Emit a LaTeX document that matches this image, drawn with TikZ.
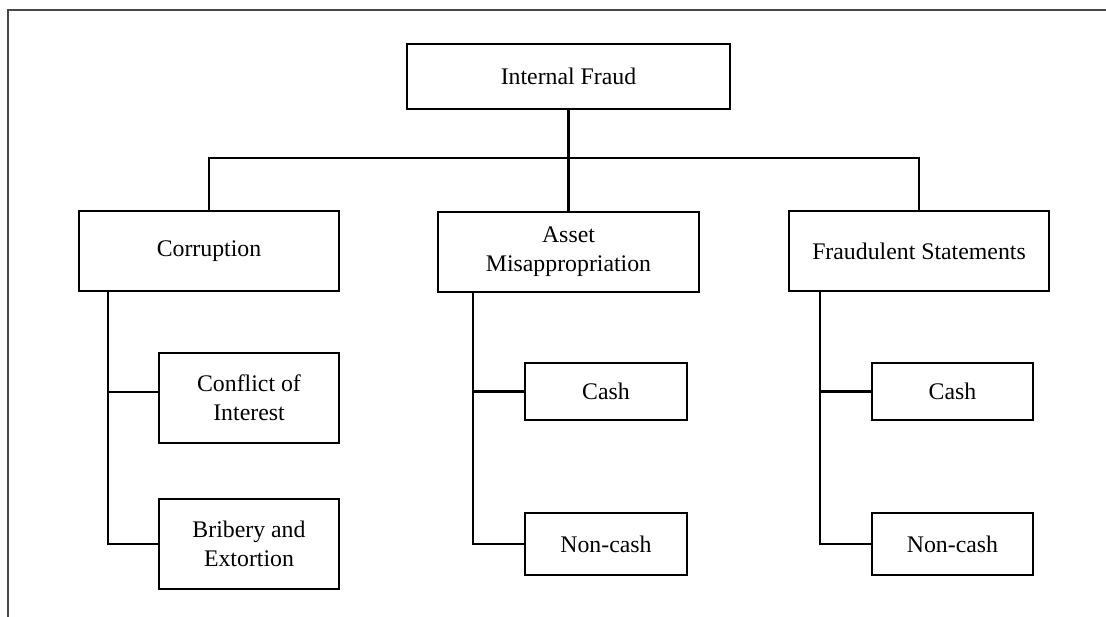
\documentclass[tikz,border=0pt]{standalone}
\usepackage{fontspec}
\setmainfont{Liberation Serif}
\begin{document}
\begin{tikzpicture}[x=1pt,y=-1pt,
  box/.style={draw=black, line width=2.2pt, fill=white, align=center, inner sep=0pt,
    font=\fontsize{23.8}{29}\selectfont},
  link/.style={draw=black, line width=2.2pt},
  frame/.style={draw=black!72, line width=2.2pt}]
\useasboundingbox (0,0) rectangle (1106,617);
% frame (top and left edges)
\coordinate (ftl) at (8,10);
\coordinate (ftr) at (1106,10);
\coordinate (fbl) at (8,617);
\draw[frame] (fbl) -- (ftl) -- (ftr);
% nodes
\node[box, minimum width=323pt, minimum height=65pt] (top) at (568.5,76.5) {Internal Fraud};
\node[box, minimum width=260pt, minimum height=80pt] (corr) at (209,251) {Corruption};
\node[box, minimum width=261pt, minimum height=80pt] (asset) at (568.5,252) {Asset\\Misappropriation};
\node[box, minimum width=260pt, minimum height=80pt] (fs) at (919,251) {Fraudulent Statements};
\node[box, minimum width=180pt, minimum height=90pt] (coi) at (249,398) {Conflict of\\Interest};
\node[box, minimum width=180pt, minimum height=90pt] (bri) at (249,544) {Bribery and\\Extortion};
\node[box, minimum width=162pt, minimum height=57pt] (acash) at (606,391.5) {Cash};
\node[box, minimum width=162pt, minimum height=62pt] (anon) at (606,544) {Non-cash};
\node[box, minimum width=161pt, minimum height=57pt] (fcash) at (952.5,391.5) {Cash};
\node[box, minimum width=161pt, minimum height=62pt] (fnon) at (952.5,544) {Non-cash};
% bus
\coordinate (bus) at (568.5,158);
\draw[link] (top.south) -- (asset.north);
\draw[link] (corr.north) |- (bus) -| (fs.north);
% corruption children
\coordinate (cs) at ([xshift=30pt]corr.south west);
\draw[link] (cs) |- ([yshift=6pt]coi.west);
\draw[link] (cs) |- (bri.west);
% asset children
\coordinate (as) at ([xshift=36pt]asset.south west);
\draw[link] (as) |- (acash.west);
\draw[link] (as) |- (anon.west);
% fraudulent statements children
\coordinate (fss) at ([xshift=32pt]fs.south west);
\draw[link] (fss) |- (fcash.west);
\draw[link] (fss) |- (fnon.west);
\end{tikzpicture}
\end{document}
